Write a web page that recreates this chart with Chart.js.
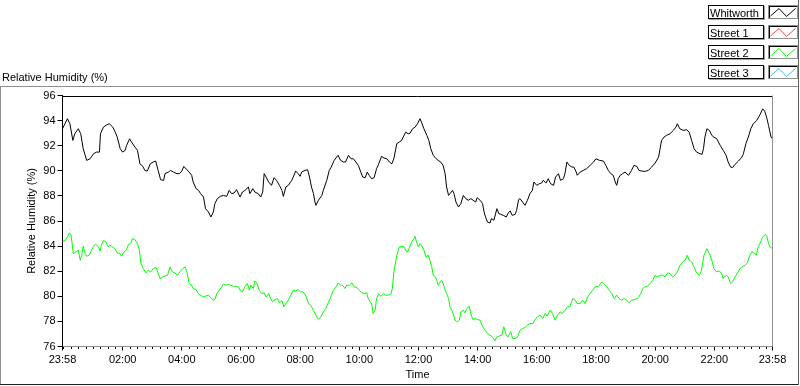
<!DOCTYPE html>
<html>
<head>
<meta charset="utf-8">
<script src="https://cdn.jsdelivr.net/npm/chart.js@4/dist/chart.umd.min.js"></script>
<style>
html,body{margin:0;padding:0;background:#fff;}
#wrap{position:relative;width:800px;height:386px;overflow:hidden;background:#fff;font-family:"Liberation Sans",Arial,sans-serif;font-size:11px;color:#000;}
#c{position:absolute;left:0;top:0;}
.ttl{position:absolute;left:2px;top:71px;line-height:13px;white-space:nowrap;}
.lbl{position:absolute;left:708px;width:53px;height:12px;border:1px solid #000;box-shadow:1px 1px 0 #a0a0a0;line-height:14px;padding-left:1px;white-space:nowrap;overflow:hidden;}
.ico{position:absolute;left:768px;width:28px;height:12px;border:1px solid #909090;box-shadow:inset 1px 1px 0 #000;}
.ico svg{position:absolute;left:0;top:0;}
.fr{position:absolute;}
</style>
</head>
<body>
<div id="wrap">
  <canvas id="c" width="800" height="386"></canvas>
  <div class="ttl" id="chartTitle"></div>
  <div id="legend"></div>
  <div class="fr" style="left:0;top:86px;width:798px;height:1px;background:#909090"></div>
  <div class="fr" style="left:0;top:86px;width:1px;height:298px;background:#909090"></div>
  <div class="fr" style="left:0;top:384px;width:799px;height:1px;background:#202020"></div>
  <div class="fr" style="left:798px;top:0;width:1px;height:385px;background:#606060"></div>
</div>
<script>
// ---- data ----
const chartTitleText = "Relative Humidity (%)";
const yAxisTitle = "Relative Humidity (%)";
const xAxisTitle = "Time";
const seriesNames = ["Whitworth", "Street 1", "Street 2", "Street 3"];
const seriesColors = ["#000000", "#e84848", "#00ff00", "#48b4f0"];

// x tick positions in minutes after the 23:58 start, and their labels
const tickMinutes = [0, 122, 242, 362, 482, 602, 722, 842, 962, 1082, 1202, 1322, 1440];
const tickLabels = ["23:58", "02:00", "04:00", "06:00", "08:00", "10:00", "12:00", "14:00", "16:00", "18:00", "20:00", "22:00", "23:58"];
const minorTickStart = 2;   // 00:00
const minorTickStep = 15;   // minutes

const yTicks = [76, 78, 80, 82, 84, 86, 88, 90, 92, 94, 96];

// Whitworth: minutes after 23:58, and RH (%)
const whitworthTimes = [
  0,5,10,15,21,25,32,37,42,49,56,63,69,75,77,83,90,95,102,107,111,117,122,127,130,136,140,147,152,157,
  163,167,172,178,184,189,194,199,205,208,215,219,225,232,237,242,246,252,257,262,265,271,276,280,286,290,296,301,306,309,
  314,320,326,333,338,343,348,353,360,365,370,377,380,386,390,397,402,406,409,413,418,424,429,434,440,445,448,453,458,465,
  468,473,478,482,485,492,497,501,505,509,512,514,519,526,529,536,541,545,551,556,559,564,570,574,580,585,590,595,600,605,
  609,614,618,622,627,632,637,641,647,652,658,663,668,672,678,683,688,691,696,701,705,710,715,720,725,728,733,739,743,747,
  752,758,762,767,772,776,779,783,786,791,794,798,803,808,813,818,823,828,833,838,841,847,852,855,858,862,867,870,875,881,
  885,889,894,900,904,908,912,918,921,925,928,933,938,943,948,953,956,962,967,972,975,981,985,990,996,1000,1006,1010,1016,1019,
  1023,1028,1033,1037,1042,1044,1050,1056,1063,1070,1077,1082,1089,1097,1102,1107,1112,1117,1121,1124,1127,1131,1136,1141,1148,1154,1159,1165,1169,1175,
  1181,1188,1195,1202,1209,1212,1215,1220,1225,1232,1239,1244,1247,1252,1259,1266,1271,1276,1281,1286,1293,1297,1300,1303,1307,1312,1317,1321,1327,1334,
  1340,1346,1350,1355,1359,1364,1371,1378,1381,1386,1391,1396,1401,1408,1415,1420,1424,1428,1432,1437,1440
];
const whitworthValues = [
  93.35,93.75,94.15,93.75,92.42,92.95,93.35,92.95,91.76,90.83,90.96,91.36,91.49,91.49,92.95,93.48,93.67,93.75,93.48,93.08,92.69,91.76,91.49,91.63,92.02,92.55,92.29,91.89,91.63,90.56,
  90.35,90.03,89.98,90.56,90.70,90.78,90.03,89.29,89.24,89.77,89.90,90.03,89.90,89.77,89.77,89.98,90.35,90.09,89.90,89.64,89.11,88.58,88.44,88.18,87.91,86.98,86.72,86.32,86.72,87.38,
  87.78,87.96,88.04,87.96,88.44,88.18,88.23,88.50,87.91,88.31,88.44,88.71,88.18,88.58,88.31,88.18,87.91,88.31,89.77,89.50,89.11,88.84,89.45,89.24,88.84,88.44,87.96,88.71,88.84,89.24,
  89.50,89.98,89.77,89.56,89.90,90.03,90.09,89.50,88.71,88.18,87.51,87.25,87.65,88.04,88.44,89.24,90.03,90.30,90.83,91.09,91.23,90.83,90.70,90.70,91.23,90.96,90.96,90.70,90.43,89.90,
  89.50,89.45,89.90,89.64,89.37,89.45,90.17,90.51,91.15,91.02,90.96,90.70,90.56,90.96,92.16,92.29,92.42,92.69,93.08,92.95,93.00,93.35,93.48,93.75,94.15,93.88,93.35,92.82,92.42,91.76,
  91.23,90.96,90.83,90.70,90.43,89.77,88.71,88.04,88.18,88.44,88.18,87.51,87.12,87.38,88.04,87.78,87.65,87.78,87.65,87.51,87.86,87.65,87.38,86.72,86.32,85.92,85.84,86.19,86.06,86.98,
  86.59,86.53,86.45,86.32,86.64,86.80,86.45,86.53,86.85,87.70,87.78,87.51,87.25,87.65,88.18,88.44,89.11,88.84,88.97,89.03,89.24,89.03,89.37,88.97,88.84,89.50,89.77,89.24,89.37,89.77,
  90.70,90.43,90.30,90.30,89.90,89.64,89.90,90.03,90.17,90.43,90.70,90.96,90.83,90.78,90.43,90.03,89.77,89.64,89.11,88.84,89.37,89.64,89.77,89.90,89.64,90.03,90.43,90.35,90.03,89.98,
  89.95,90.03,90.30,90.62,91.09,91.76,92.42,92.69,92.82,92.95,93.22,93.48,93.75,93.35,93.22,93.27,93.08,92.42,91.76,91.49,91.36,91.31,91.76,92.69,93.35,93.22,92.82,92.69,92.55,92.02,
  91.63,91.23,90.70,90.30,90.25,90.51,90.78,91.09,91.36,92.16,92.69,93.35,93.75,94.01,94.49,94.94,94.76,94.28,93.61,92.69,92.55
];

// Street 1 and Street 3: no readings shown
const street1Times = [];
const street1Values = [];
const street3Times = [];
const street3Values = [];

// Street 2: minutes after 23:58, and RH (%)
const street2Times = [
  0,5,10,14,17,20,22,27,32,36,39,42,46,49,54,59,63,67,73,76,79,83,88,93,96,102,107,111,117,120,
  123,129,134,138,142,147,152,156,159,164,169,174,179,184,190,193,198,203,208,213,218,223,228,233,238,244,249,253,257,262,
  265,271,276,280,286,290,296,301,305,309,313,318,323,326,332,336,341,347,352,357,360,365,370,375,379,382,387,390,394,399,
  404,409,413,418,422,426,431,436,440,445,449,453,458,463,468,473,478,483,488,494,499,503,509,514,519,524,529,534,539,544,
  549,555,559,564,568,573,576,582,587,591,597,602,607,612,617,620,624,627,630,634,637,641,645,651,656,661,666,669,672,678,
  683,688,693,698,701,705,708,713,715,718,722,725,728,733,737,742,745,749,752,756,759,762,766,769,772,776,779,783,786,791,
  796,801,805,808,813,816,820,825,828,832,837,841,847,852,857,862,867,872,877,881,885,891,895,900,904,909,913,918,923,928,
  933,938,943,948,954,958,963,969,974,979,983,989,994,999,1004,1009,1014,1019,1024,1029,1035,1040,1044,1050,1055,1060,1065,1070,1075,1080,
  1087,1094,1098,1104,1109,1114,1119,1124,1129,1134,1139,1144,1150,1154,1161,1168,1173,1177,1181,1186,1192,1197,1202,1206,1212,1217,1222,1227,1232,1238,
  1242,1247,1252,1258,1263,1267,1271,1276,1281,1286,1292,1296,1301,1307,1312,1317,1321,1327,1332,1337,1340,1346,1350,1355,1359,1364,1369,1374,1380,1384,
  1389,1394,1398,1403,1407,1411,1416,1420,1425,1428,1432,1435,1440
];
const street2Values = [
  84.41,84.41,84.73,85.05,84.94,84.07,83.40,83.54,83.67,82.87,83.27,83.99,83.40,83.19,83.27,83.67,83.99,84.15,83.93,83.61,84.07,84.46,84.33,83.93,84.07,83.93,83.72,83.46,83.40,83.19,
  83.46,83.67,84.15,84.20,84.60,84.52,84.20,83.67,82.61,82.21,81.86,82.08,81.94,82.21,82.29,81.94,81.41,81.55,81.63,81.68,82.34,81.94,81.86,81.68,81.94,82.21,82.34,81.81,81.02,80.88,
  80.62,80.54,80.17,80.09,79.95,80.01,80.09,79.90,79.69,79.74,80.22,80.48,80.75,80.96,80.88,80.96,80.88,80.80,80.80,80.75,80.48,80.35,80.75,81.02,80.48,80.88,80.62,81.23,81.07,80.48,
  80.22,80.27,79.95,80.22,79.82,79.56,79.74,79.82,79.48,79.64,79.16,79.42,79.69,80.09,80.48,80.43,80.54,80.35,80.35,80.01,79.42,79.29,78.89,78.50,78.15,78.36,78.76,79.03,79.48,79.95,
  80.48,80.75,81.07,80.88,80.88,80.62,80.88,80.88,81.07,80.75,80.70,80.48,80.27,80.22,80.27,79.82,79.56,79.42,78.63,78.89,79.82,80.22,80.01,80.22,80.09,80.09,80.17,80.62,81.94,83.27,
  83.93,83.99,83.93,83.54,83.61,84.01,84.33,84.60,84.78,84.33,83.93,84.20,84.07,83.67,83.14,83.27,82.87,82.34,81.68,81.55,81.28,80.88,81.15,81.28,81.02,80.48,80.22,79.82,79.16,78.76,
  78.10,77.96,78.10,78.76,78.89,78.68,79.03,79.21,78.63,78.15,78.23,78.15,78.10,77.57,77.30,77.04,76.90,76.77,76.45,76.77,76.82,76.90,77.57,76.90,76.77,77.17,76.64,76.64,76.77,77.30,
  77.43,77.51,77.70,77.83,77.83,78.10,78.36,78.50,78.23,78.63,78.42,78.89,78.63,78.10,78.50,78.76,78.63,78.89,79.16,79.16,79.82,79.69,79.42,79.42,79.69,79.42,79.95,80.22,80.48,80.75,
  80.80,81.15,81.02,80.75,80.48,80.22,79.82,80.09,79.82,79.69,79.82,79.69,79.48,79.69,79.74,79.90,80.22,80.62,80.75,80.80,81.02,81.28,81.68,81.55,81.68,81.68,81.55,81.86,81.81,81.55,
  81.68,81.94,82.47,82.74,82.87,83.27,82.87,82.74,82.34,81.86,81.68,82.08,83.27,83.80,83.40,82.87,82.21,81.94,82.02,81.81,81.41,81.68,81.55,81.02,81.15,81.55,81.86,82.21,82.39,82.47,
  82.66,83.27,83.54,83.46,83.27,83.93,84.33,84.73,84.91,84.86,84.20,83.93,83.80
];

// ---- build ----
const FONT = "'Liberation Sans', Arial, sans-serif";
Chart.defaults.font.family = FONT;
Chart.defaults.font.size = 11;
Chart.defaults.color = "#000";

document.getElementById("chartTitle").textContent = chartTitleText;

// HTML legend
const legendEl = document.getElementById("legend");
seriesNames.forEach((name, i) => {
  const top = 5 + i * 20;
  const l = document.createElement("div");
  l.className = "lbl"; l.style.top = top + "px"; l.textContent = name;
  legendEl.appendChild(l);
  const ic = document.createElement("div");
  ic.className = "ico"; ic.style.top = top + "px";
  ic.innerHTML = '<svg width="28" height="12"><polyline points="1.5,10 10,2.5 17.5,10.5 26.5,2.5" fill="none" stroke="' + seriesColors[i] + '" stroke-width="1"/></svg>';
  legendEl.appendChild(ic);
});

const toPoints = (ts, vs) => ts.map((t, i) => ({ x: t, y: vs[i] }));
const seriesData = [
  toPoints(whitworthTimes, whitworthValues),
  toPoints(street1Times, street1Values),
  toPoints(street2Times, street2Values),
  toPoints(street3Times, street3Values)
];

const framePlugin = {
  id: "frame",
  afterDraw(chart) {
    const { ctx, chartArea: a, scales: { x } } = chart;
    ctx.save();
    ctx.lineWidth = 1;
    ctx.strokeStyle = "#000";
    ctx.beginPath();
    ctx.moveTo(a.left, Math.round(a.top) + 0.5);
    ctx.lineTo(a.right, Math.round(a.top) + 0.5);
    ctx.stroke();
    ctx.strokeStyle = "#909090";
    ctx.beginPath();
    ctx.moveTo(Math.floor(a.right) + 0.5, a.top);
    ctx.lineTo(Math.floor(a.right) + 0.5, a.bottom);
    ctx.stroke();
    // minor ticks on the time axis
    ctx.strokeStyle = "#000";
    ctx.beginPath();
    for (let m = minorTickStart; m < x.max; m += minorTickStep) {
      if (tickMinutes.indexOf(m) >= 0) continue;
      const px = Math.round(x.getPixelForValue(m)) + 0.5;
      ctx.moveTo(px, Math.ceil(a.bottom));
      ctx.lineTo(px, Math.ceil(a.bottom) + 2);
    }
    ctx.stroke();
    ctx.restore();
  }
};

new Chart(document.getElementById("c"), {
  type: "line",
  data: {
    datasets: seriesNames.map((n, i) => ({
      label: n,
      data: seriesData[i],
      borderColor: seriesColors[i],
      backgroundColor: seriesColors[i],
      borderWidth: 1,
      pointRadius: 0,
      tension: 0,
      fill: false
    }))
  },
  options: {
    responsive: false,
    animation: false,
    devicePixelRatio: 1,
    layout: { padding: { top: 95.5, right: 27.5, bottom: 0, left: 0 } },
    plugins: { legend: { display: false }, tooltip: { enabled: false }, title: { display: false } },
    scales: {
      x: {
        type: "linear",
        min: tickMinutes[0],
        max: tickMinutes[tickMinutes.length - 1],
        afterBuildTicks: s => { s.ticks = tickMinutes.map(v => ({ value: v })); },
        ticks: {
          autoSkip: false, maxRotation: 0, padding: 3, color: "#000",
          font: { family: FONT, size: 11 },
          callback: v => { const k = tickMinutes.indexOf(v); return k >= 0 ? tickLabels[k] : ""; }
        },
        grid: { drawOnChartArea: false, drawTicks: true, tickLength: 4, tickColor: "#000" },
        border: { display: true, color: "#909090", width: 1 },
        title: { display: true, text: xAxisTitle, color: "#000", font: { family: FONT, size: 11 }, padding: { top: 0, bottom: 4 } },
        afterFit: s => { s.height = 39.5; }
      },
      y: {
        min: yTicks[0],
        max: yTicks[yTicks.length - 1],
        afterBuildTicks: s => { s.ticks = yTicks.map(v => ({ value: v })); },
        ticks: { padding: 2, color: "#000", font: { family: FONT, size: 11 } },
        grid: { drawOnChartArea: false, drawTicks: true, tickLength: 5, tickColor: "#000" },
        border: { display: true, color: "#000", width: 1 },
        title: { display: true, text: yAxisTitle, color: "#000", font: { family: FONT, size: 11 }, padding: { top: 25, bottom: 0 } },
        afterFit: s => { s.width = 62.5; }
      }
    }
  },
  plugins: [framePlugin]
});
</script>
</body>
</html>
